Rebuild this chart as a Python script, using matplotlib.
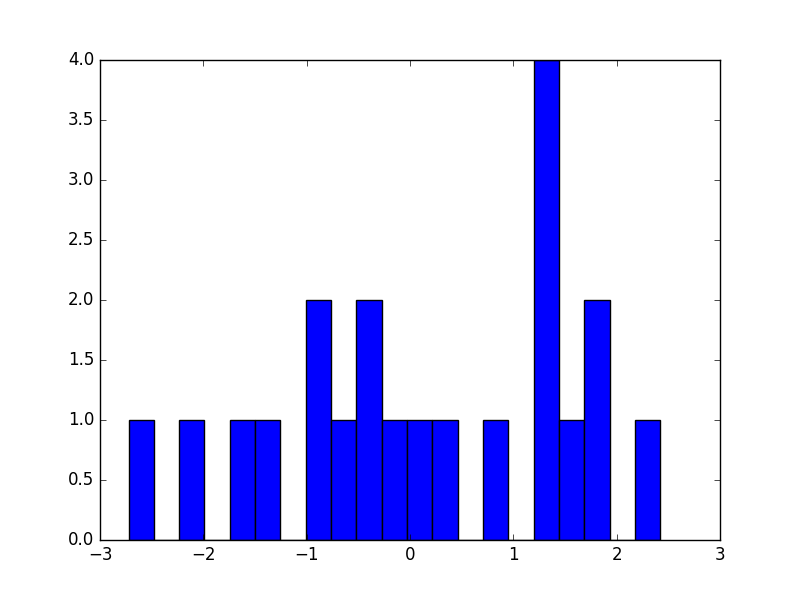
import matplotlib
matplotlib.use('Agg')
import matplotlib.pyplot as plt
import numpy as np

plt.style.use('classic')

# histogram data: 21 equal bins
bin_lo = -2.724
bin_hi = 2.421
counts = [1, 0, 1, 0, 1, 1, 0, 2, 1, 2, 1, 1, 1, 0, 1, 0, 4, 1, 2, 0, 1]

edges = np.linspace(bin_lo, bin_hi, len(counts) + 1)
centers = (edges[:-1] + edges[1:]) / 2

fig = plt.figure(figsize=(8, 6), dpi=100)
ax = fig.add_subplot(111)
ax.hist(centers, bins=edges, weights=counts, color='b', edgecolor='k')
ax.set_xlim(-3, 3)
ax.set_ylim(0, 4)

plt.savefig("out.png", dpi=100)
